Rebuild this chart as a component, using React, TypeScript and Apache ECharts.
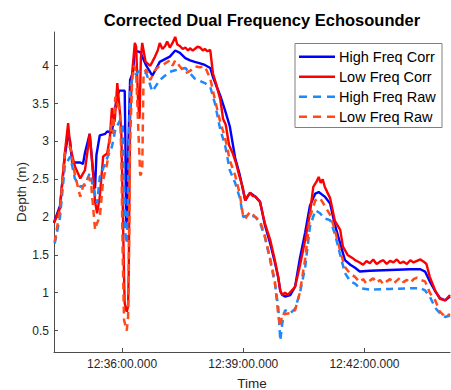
import React, { useEffect, useRef } from "react";
import * as echarts from "echarts";

// time: seconds after 12:00:00, value: depth (m)
const highFreqCorr: [number, number][] = [
  [2059, 1.93], [2068, 2.15], [2075, 2.8], [2080, 3.1], [2083, 3.0], [2086, 2.72], [2090, 2.72],
  [2098, 2.72], [2102, 2.7], [2105, 2.85], [2112, 3.1], [2117, 2.6], [2120, 2.38], [2122, 2.82],
  [2127, 3.08], [2135, 3.1], [2138, 3.13], [2145, 3.12], [2150, 3.45], [2153, 3.6], [2156, 3.67],
  [2164, 3.67], [2165, 3.0], [2166, 1.92], [2167, 1.95], [2169, 2.8], [2172, 3.81], [2176, 3.9],
  [2179, 4.2], [2187, 4.18], [2196, 4.0], [2205, 3.87], [2209, 3.93], [2216, 4.05], [2231, 4.12],
  [2239, 4.2], [2246, 4.17], [2254, 4.1], [2261, 4.07], [2268, 4.05], [2276, 4.03], [2283, 4.01],
  [2291, 3.97], [2295, 3.85], [2306, 3.6], [2313, 3.41], [2320, 3.2], [2328, 2.78], [2335, 2.55],
  [2343, 2.22], [2350, 2.32], [2358, 2.27], [2365, 2.2], [2372, 1.9], [2380, 1.65], [2387, 1.4],
  [2392, 1.2], [2395, 1.02], [2398, 0.97], [2402, 0.95], [2410, 0.97], [2417, 1.08], [2424, 1.45],
  [2432, 1.8], [2439, 2.15], [2447, 2.31], [2452, 2.33], [2461, 2.27], [2469, 2.18], [2476, 1.9],
  [2484, 1.65], [2491, 1.43], [2499, 1.37], [2506, 1.33], [2513, 1.28], [2528, 1.29], [2558, 1.3],
  [2588, 1.31], [2603, 1.31], [2610, 1.28], [2617, 1.15], [2625, 1.02], [2632, 0.93], [2640, 0.9],
  [2647, 0.95],
];

const lowFreqCorr: [number, number][] = [
  [2059, 1.92], [2068, 2.12], [2075, 2.84], [2080, 3.24], [2083, 2.93], [2090, 2.67], [2098, 2.51],
  [2105, 2.62], [2110, 2.95], [2112, 3.1], [2117, 2.58], [2120, 2.2], [2123, 2.05], [2127, 2.27],
  [2132, 2.8], [2138, 2.84], [2142, 3.06], [2145, 3.44], [2149, 3.26], [2151, 3.5], [2153, 3.77],
  [2157, 3.37], [2159, 3.1], [2161, 2.2], [2163, 1.2], [2164, 0.86], [2166, 0.78], [2167, 0.75],
  [2169, 0.82], [2170, 1.3], [2172, 3.3], [2175, 3.9], [2178, 4.2], [2179, 4.3], [2181, 4.25],
  [2184, 3.5], [2186, 3.3], [2188, 4.1], [2190, 4.3], [2192, 4.2], [2195, 4.05], [2199, 4.02],
  [2202, 4.0], [2205, 4.05], [2209, 4.12], [2213, 4.2], [2216, 4.3], [2220, 4.22], [2224, 4.26],
  [2227, 4.32], [2231, 4.24], [2235, 4.3], [2239, 4.38], [2242, 4.28], [2246, 4.26], [2250, 4.22],
  [2254, 4.24], [2258, 4.2], [2261, 4.23], [2265, 4.2], [2268, 4.22], [2272, 4.25], [2276, 4.24],
  [2280, 4.2], [2283, 4.22], [2287, 4.19], [2291, 4.21], [2295, 3.9], [2300, 3.75], [2306, 3.55],
  [2310, 3.3], [2314, 3.22], [2319, 2.95], [2324, 2.85], [2329, 2.72], [2334, 2.55], [2339, 2.4],
  [2343, 2.22], [2346, 2.27], [2350, 2.32], [2354, 2.28], [2358, 2.27], [2365, 2.2], [2372, 1.92],
  [2380, 1.7], [2387, 1.43], [2392, 1.2], [2395, 1.03], [2398, 0.97], [2402, 1.0], [2406, 0.97],
  [2410, 1.01], [2417, 1.08], [2424, 1.35], [2432, 1.7], [2439, 2.05], [2444, 2.4], [2449, 2.47],
  [2452, 2.53], [2455, 2.45], [2458, 2.5], [2461, 2.4], [2469, 2.25], [2476, 1.95], [2484, 1.83],
  [2488, 1.61], [2495, 1.5], [2502, 1.46], [2506, 1.43], [2513, 1.4], [2518, 1.37], [2523, 1.42],
  [2528, 1.39], [2533, 1.44], [2538, 1.38], [2543, 1.41], [2548, 1.43], [2553, 1.38], [2558, 1.42],
  [2563, 1.4], [2568, 1.44], [2573, 1.39], [2578, 1.41], [2583, 1.38], [2588, 1.43], [2593, 1.4],
  [2598, 1.42], [2603, 1.44], [2608, 1.41], [2612, 1.38], [2617, 1.21], [2625, 1.03], [2632, 0.92],
  [2640, 0.9], [2647, 0.97],
];

const highFreqRaw: [number, number][] = [
  [2060, 1.65], [2068, 2.0], [2075, 2.67], [2083, 2.8], [2090, 2.51], [2098, 2.4], [2105, 2.42],
  [2112, 2.58], [2117, 2.4], [2123, 2.18], [2127, 2.53], [2138, 2.78], [2145, 2.93], [2150, 3.15],
  [2157, 3.28], [2161, 3.24], [2163, 2.5], [2165, 1.78], [2167, 1.65], [2169, 2.4], [2172, 3.7],
  [2176, 3.85], [2187, 3.94], [2196, 3.9], [2205, 3.66], [2216, 3.81], [2231, 3.92], [2239, 3.94],
  [2254, 3.97], [2268, 3.83], [2283, 3.77], [2291, 3.72], [2298, 3.5], [2306, 3.15], [2313, 2.95],
  [2320, 2.62], [2328, 2.45], [2335, 2.25], [2340, 2.0], [2350, 2.03], [2358, 2.0], [2365, 1.92],
  [2372, 1.74], [2380, 1.43], [2387, 1.12], [2392, 0.81], [2395, 0.37], [2398, 0.6], [2402, 0.77],
  [2410, 0.73], [2417, 0.79], [2424, 0.99], [2432, 1.34], [2439, 1.87], [2447, 2.09], [2454, 2.05],
  [2461, 1.98], [2469, 1.96], [2476, 1.78], [2484, 1.5], [2491, 1.26], [2499, 1.15], [2506, 1.12],
  [2513, 1.06], [2528, 1.04], [2558, 1.05], [2588, 1.06], [2603, 1.06], [2610, 1.03], [2617, 0.95],
  [2625, 0.8], [2632, 0.73], [2640, 0.68], [2647, 0.7],
];

const lowFreqRaw: [number, number][] = [
  [2060, 1.67], [2068, 2.1], [2075, 2.84], [2083, 2.93], [2090, 2.56], [2098, 2.27], [2102, 2.4],
  [2110, 2.53], [2114, 2.45], [2120, 1.83], [2122, 1.9], [2127, 2.0], [2132, 2.49], [2138, 2.71],
  [2142, 3.02], [2145, 3.3], [2147, 3.1], [2150, 3.59], [2153, 3.5], [2157, 3.4], [2159, 2.8],
  [2161, 1.5], [2163, 0.64], [2167, 0.5], [2169, 0.68], [2170, 1.2], [2172, 3.0], [2175, 3.8],
  [2178, 4.0], [2181, 3.9], [2184, 3.2], [2187, 2.55], [2190, 2.6], [2192, 3.9], [2196, 3.95],
  [2202, 3.81], [2209, 3.94], [2216, 4.0], [2224, 4.03], [2231, 4.07], [2235, 4.0], [2239, 4.07],
  [2246, 3.99], [2254, 3.9], [2261, 3.93], [2268, 3.99], [2276, 3.98], [2283, 3.99], [2291, 3.83],
  [2298, 3.55], [2306, 3.25], [2313, 3.05], [2320, 2.75], [2328, 2.55], [2335, 2.3], [2340, 2.0],
  [2343, 1.98], [2350, 2.07], [2358, 2.0], [2365, 1.95], [2372, 1.75], [2380, 1.45], [2387, 1.15],
  [2392, 0.7], [2395, 0.55], [2398, 0.73], [2402, 0.72], [2410, 0.73], [2417, 0.77], [2424, 1.0],
  [2432, 1.45], [2439, 2.0], [2447, 2.22], [2454, 2.25], [2461, 2.15], [2469, 2.03], [2476, 1.83],
  [2484, 1.55], [2491, 1.34], [2499, 1.25], [2506, 1.21], [2513, 1.14], [2518, 1.18], [2523, 1.12],
  [2528, 1.16], [2533, 1.19], [2538, 1.13], [2543, 1.17], [2548, 1.11], [2553, 1.15], [2558, 1.18],
  [2563, 1.12], [2568, 1.16], [2573, 1.2], [2578, 1.14], [2583, 1.17], [2588, 1.13], [2593, 1.18],
  [2598, 1.2], [2603, 1.17], [2610, 1.15], [2617, 1.0], [2625, 0.9], [2632, 0.75], [2640, 0.68],
  [2647, 0.72],
];

const seriesNames = ["High Freq Corr", "Low Freq Corr", "High Freq Raw", "Low Freq Raw"];
const seriesColors = ["#0000ff", "#ff0000", "#1e88ff", "#ff4a1a"];
const seriesDashed = [false, false, true, true];
const xTicks = [2160, 2340, 2520];
const yTicks = [0.5, 1, 1.5, 2, 2.5, 3, 3.5, 4];

const FONT = "'Liberation Sans', Arial, Helvetica, sans-serif";

function fmtTime(t: number): string {
  const total = 12 * 3600 + Math.round(t);
  const h = Math.floor(total / 3600);
  const m = Math.floor((total % 3600) / 60);
  const s = total % 60;
  const p = (n: number) => String(n).padStart(2, "0");
  return `${p(h)}:${p(m)}:${p(s)}.000`;
}

export default function App() {
  const ref = useRef<HTMLDivElement>(null);
  useEffect(() => {
    if (!ref.current) return;
    const chart = echarts.init(ref.current, null, { renderer: "svg" });
    const axisColor = "#4d4d4d";
    const datas = [highFreqCorr, lowFreqCorr, highFreqRaw, lowFreqRaw];
    const series = seriesNames.map((name, i) => ({
      name,
      type: "line",
      data: datas[i],
      symbol: "none",
      showSymbol: false,
      lineStyle: {
        color: seriesColors[i],
        width: seriesDashed[i] ? 2.5 : 2.4,
        type: seriesDashed[i] ? [7, 5] : "solid",
      },
      itemStyle: { color: seriesColors[i] },
      emphasis: { disabled: true },
    }));

    // legend drawn as graphic
    const lgX = 295, lgY = 43.5, lgW = 147, lgH = 84, rowH = 20;
    const legendEls: any[] = [
      {
        type: "rect",
        shape: { x: lgX, y: lgY, width: lgW, height: lgH },
        style: { fill: "#fff", stroke: "#808080", lineWidth: 1 },
        z: 100,
      },
    ];
    seriesNames.forEach((name, i) => {
      const cy = lgY + 13.2 + i * rowH;
      legendEls.push({
        type: "line",
        shape: { x1: lgX + 4, y1: cy, x2: lgX + 40, y2: cy },
        style: {
          stroke: seriesColors[i],
          lineWidth: seriesDashed[i] ? 2.5 : 2.4,
          lineDash: seriesDashed[i] ? [8, 6] : null,
        },
        z: 101,
      });
      legendEls.push({
        type: "text",
        x: lgX + 44,
        y: cy,
        style: {
          text: name,
          fill: "#000",
          font: `14.5px ${FONT}`,
          verticalAlign: "middle",
          align: "left",
        },
        z: 101,
      });
    });

    chart.setOption({
      animation: false,
      backgroundColor: "#fff",
      title: {
        text: "Corrected Dual Frequency Echosounder",
        left: 257,
        top: 6,
        textAlign: "center",
        textStyle: { fontFamily: FONT, fontSize: 16.5, fontWeight: "bold", color: "#000" },
      },
      grid: { left: 54, right: 1, top: 32, bottom: 38, containLabel: false, outerBoundsMode: "none" },
      graphic: legendEls,
      xAxis: {
        type: "value",
        min: 2059,
        max: 2647,
        name: "Time",
        nameLocation: "middle",
        nameGap: 24,
        nameMoveOverlap: false,
        nameTextStyle: { fontFamily: FONT, fontSize: 13.5, color: "#262626" },
        axisLine: { lineStyle: { color: axisColor } },
        axisTick: { inside: true, length: 4, customValues: xTicks, lineStyle: { color: axisColor } },
        axisLabel: {
          customValues: xTicks,
          formatter: (v: number) => fmtTime(v),
          fontFamily: FONT,
          fontSize: 12,
          color: "#262626",
          margin: 6,
        },
        splitLine: { show: false },
      },
      yAxis: {
        type: "value",
        min: 0.217,
        max: 4.445,
        name: "Depth (m)",
        nameLocation: "middle",
        nameGap: 26,
        nameMoveOverlap: false,
        nameTextStyle: { fontFamily: FONT, fontSize: 13.5, color: "#262626" },
        axisLine: { show: true, lineStyle: { color: axisColor } },
        axisTick: { show: true, inside: true, length: 4, customValues: yTicks, lineStyle: { color: axisColor } },
        axisLabel: {
          customValues: yTicks,
          formatter: (v: number) => String(v),
          fontFamily: FONT,
          fontSize: 12,
          color: "#262626",
          margin: 5,
        },
        splitLine: { show: false },
      },
      series,
    });
    return () => chart.dispose();
  }, []);
  return <div ref={ref} style={{ position: "absolute", left: 0, top: 0, width: 451, height: 390 }} />;
}
